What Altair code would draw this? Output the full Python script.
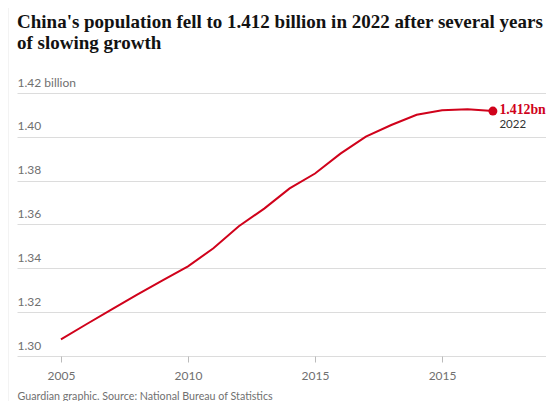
import altair as alt
import pandas as pd

years = list(range(2005, 2023))
population = [1.30756, 1.31448, 1.32129, 1.32802, 1.33450, 1.34091, 1.34916, 1.35922,
              1.36726, 1.37646, 1.38326, 1.39232, 1.40011, 1.40541, 1.41008, 1.41212,
              1.41260, 1.41175]
y_ticks = [1.30, 1.32, 1.34, 1.36, 1.38, 1.40, 1.42]
x_ticks = [2005, 2010, 2015, 2020]
x_tick_labels = ["2005", "2010", "2015", "2015"]
title_lines = ["China's population fell to 1.412 billion in 2022 after several years",
               "of slowing growth"]
source = "Guardian graphic. Source: National Bureau of Statistics"
end_value_label = "1.412bn"
end_year_label = "2022"

RED = "#d0021b"
GREY = "#707070"
SANS = "Lato"
SERIF = "Liberation Serif"

df = pd.DataFrame({"year": years, "pop": population})
last = df.tail(1).assign(vlabel=end_value_label, ylabel=end_year_label)

x_expr = "".join(f"datum.value == {v} ? '{l}' : " for v, l in zip(x_ticks, x_tick_labels)) + "datum.label"

x_scale = alt.Scale(domain=[2003.27, 2024.09], nice=False, zero=False)
y_scale = alt.Scale(domain=[1.30, 1.42], nice=False, zero=False)

x_enc = alt.X("year:Q", scale=x_scale, axis=alt.Axis(
    values=x_ticks, labelExpr=x_expr, grid=False, domain=False,
    ticks=True, tickColor="#bbbbbb", tickSize=6,
    labelFont=SANS, labelFontSize=12, labelColor=GREY, labelPadding=8,
    title=source, titleAnchor="start", titleAlign="left", titleFont=SANS,
    titleFontSize=10.7, titleFontWeight="normal", titleColor=GREY, titlePadding=10))
y_enc = alt.Y("pop:Q", scale=y_scale, axis=alt.Axis(
    values=y_ticks, format=".2f",
    labelExpr="datum.value > 1.419 ? datum.label + ' billion' : datum.label",
    grid=True, gridColor="#dcdcdc", domain=False, ticks=False, tickSize=0,
    labelAlign="left", labelBaseline="alphabetic", labelPadding=0, labelOffset=-7,
    labelFont=SANS, labelFontSize=12, labelColor=GREY, title=None))

base = alt.Chart(df)
line = base.mark_line(color=RED, strokeWidth=2).encode(x=x_enc, y=y_enc)
dot = alt.Chart(last).mark_circle(size=80, color=RED, opacity=1).encode(x="year:Q", y="pop:Q")
vtext = alt.Chart(last).mark_text(align="left", baseline="alphabetic", dx=6.5, dy=2.5,
                                  font=SERIF, fontWeight="bold", fontSize=13.8, color=RED
                                  ).encode(x="year:Q", y="pop:Q", text="vlabel:N")
ytext = alt.Chart(last).mark_text(align="left", baseline="alphabetic", dx=6.5, dy=17,
                                  font=SANS, fontSize=11.5, color="#333333"
                                  ).encode(x="year:Q", y="pop:Q", text="ylabel:N")
edge = alt.Chart(pd.DataFrame({"a": [0]})).mark_rule(color="#e8e8e8", strokeWidth=1).encode(
    x=alt.value(-9), y=alt.value(-85), y2=alt.value(308))

chart = alt.layer(edge, line, dot, vtext, ytext).properties(
    width=529, height=263,
    autosize=alt.AutoSizeParams(type="none"),
    padding={"left": 9, "top": 85, "right": 0, "bottom": 45},
    title=alt.TitleParams(title_lines, anchor="start", frame="group", font=SERIF,
                          fontSize=19, fontWeight="bold", color="#121212",
                          lineHeight=21, offset=0, dy=45),
).configure_view(stroke=None)

chart.save("out.html", embed_options={"renderer": "svg", "actions": False})
